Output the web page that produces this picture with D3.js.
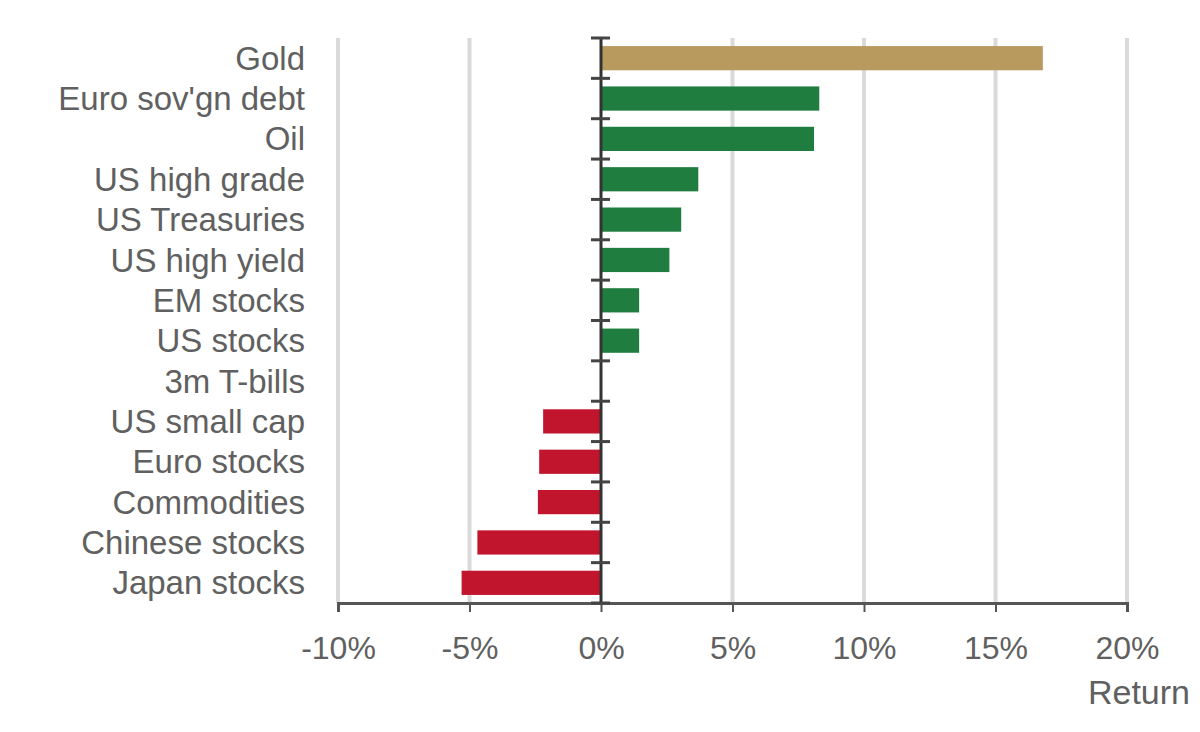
<!DOCTYPE html>
<html>
<head>
<meta charset="utf-8">
<script src="https://cdn.jsdelivr.net/npm/d3@7"></script>
<style>
  body { margin: 0; background: #fff; }
  text { font-family: "Liberation Sans", Arial, sans-serif; fill: #606060; }
</style>
</head>
<body>
<script>
// asset classes, top to bottom
var categories = ["Gold", "Euro sov'gn debt", "Oil", "US high grade", "US Treasuries",
  "US high yield", "EM stocks", "US stocks", "3m T-bills", "US small cap",
  "Euro stocks", "Commodities", "Chinese stocks", "Japan stocks"];
// return, %
var returns = [16.8, 8.3, 8.1, 3.7, 3.05, 2.6, 1.45, 1.45, 0, -2.2, -2.35, -2.4, -4.7, -5.3];
var tickValues = [-10, -5, 0, 5, 10, 15, 20];

var w = 1200, h = 732;
var plotLeft = 338, plotRight = 1127, plotTop = 38, plotBottom = 603;

var svg = d3.select("body").append("svg")
  .attr("width", w)
  .attr("height", h);

var xScale = d3.scaleLinear()
  .domain([-10, 20])
  .range([plotLeft, plotRight]);

var yScale = d3.scaleBand()
  .domain(categories)
  .range([plotTop, plotBottom])
  .paddingInner(0.4)
  .paddingOuter(0.2);

function barColor(name, v) {
  if (name === "Gold") return "#b89a5e";
  return v >= 0 ? "#1f7d40" : "#c0152c";
}

// gridlines
svg.append("g")
  .selectAll("line")
  .data(tickValues.filter(d => d !== 0))
  .enter()
  .append("line")
  .attr("x1", d => xScale(d))
  .attr("x2", d => xScale(d))
  .attr("y1", plotTop)
  .attr("y2", plotBottom)
  .attr("stroke", "#dadada")
  .attr("stroke-width", 4);

// bars
svg.append("g")
  .selectAll("rect")
  .data(categories)
  .enter()
  .append("rect")
  .attr("x", (d, i) => xScale(Math.min(0, returns[i])))
  .attr("y", d => yScale(d))
  .attr("width", (d, i) => Math.abs(xScale(returns[i]) - xScale(0)))
  .attr("height", yScale.bandwidth())
  .attr("fill", (d, i) => barColor(d, returns[i]));

// x axis
var xAxis = d3.axisBottom(xScale)
  .tickValues(tickValues)
  .tickFormat(d => d + "%")
  .tickSize(9)
  .tickPadding(24);

var gx = svg.append("g")
  .attr("transform", "translate(0," + plotBottom + ")")
  .call(xAxis);
gx.select(".domain").attr("stroke", "#555").attr("stroke-width", 3);
gx.selectAll(".tick line").attr("stroke", "#555").attr("stroke-width", 2);
gx.selectAll(".tick text")
  .attr("font-size", 32)
  .attr("fill", "#606060");

// zero line with ticks between categories
var rowH = (plotBottom - plotTop) / categories.length;
var boundaries = d3.range(categories.length + 1).map(i => plotTop + i * rowH);
svg.append("line")
  .attr("x1", xScale(0))
  .attr("x2", xScale(0))
  .attr("y1", plotTop)
  .attr("y2", plotBottom)
  .attr("stroke", "#333")
  .attr("stroke-width", 3);
svg.append("g")
  .selectAll("line")
  .data(boundaries)
  .enter()
  .append("line")
  .attr("x1", xScale(0) - 10)
  .attr("x2", xScale(0) + 9)
  .attr("y1", d => d)
  .attr("y2", d => d)
  .attr("stroke", "#444")
  .attr("stroke-width", 3);

// category labels
svg.append("g")
  .selectAll("text")
  .data(categories)
  .enter()
  .append("text")
  .attr("x", 305)
  .attr("y", d => yScale(d) + yScale.bandwidth() / 2)
  .attr("dy", "0.35em")
  .attr("text-anchor", "end")
  .attr("font-size", 33)
  .text(d => d);

// axis title
svg.append("text")
  .attr("x", 1190)
  .attr("y", 704)
  .attr("text-anchor", "end")
  .attr("font-size", 34)
  .text("Return");
</script>
</body>
</html>
